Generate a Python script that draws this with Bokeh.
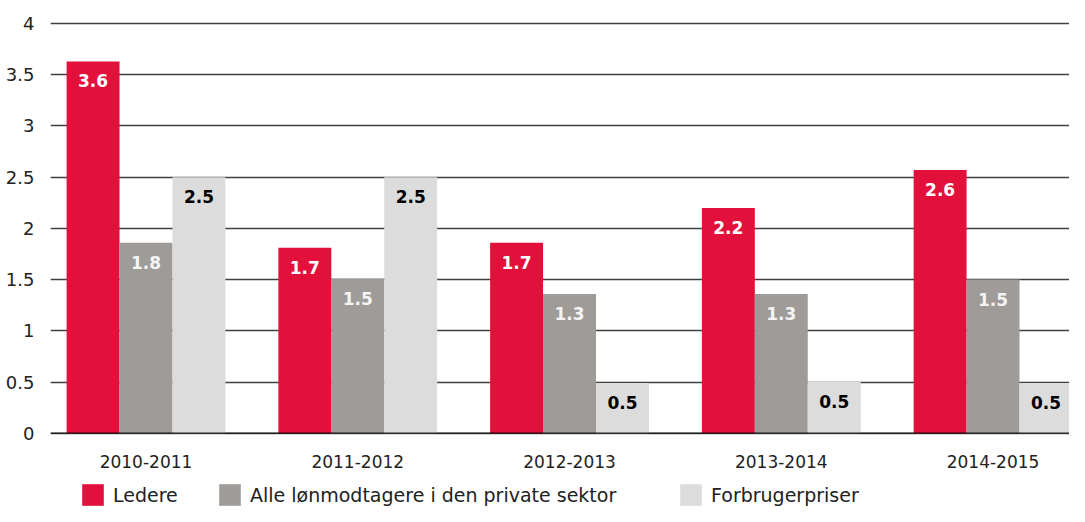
from bokeh.plotting import figure
from bokeh.layouts import column
from bokeh.models import ColumnDataSource, FixedTicker, Legend, LegendItem, Span, Range1d
from bokeh.embed import file_html
from bokeh.resources import INLINE
from bokeh.core.properties import value
import numpy as np

# ---- data ----
periods = ["2010-2011", "2011-2012", "2012-2013", "2013-2014", "2014-2015"]
series_names = ["Ledere", "Alle lønmodtagere i den private sektor", "Forbrugerpriser"]
ledere = [3.63, 1.81, 1.86, 2.20, 2.57]
alle = [1.86, 1.51, 1.36, 1.36, 1.50]
forbruger = [2.50, 2.50, 0.49, 0.50, 0.49]
ledere_labels = ["3.6", "1.7", "1.7", "2.2", "2.6"]
alle_labels = ["1.8", "1.5", "1.3", "1.3", "1.5"]
forbruger_labels = ["2.5", "2.5", "0.5", "0.5", "0.5"]
y_ticks = [0, 0.5, 1, 1.5, 2, 2.5, 3, 3.5, 4]
y_tick_labels = ["0", "0.5", "1", "1.5", "2", "2.5", "3", "3.5", "4"]

# ---- style ----
colors = ["#E4103C", "#9F9B98", "#DCDCDC"]
label_colors = ["#FFFFFF", "#F4F4F4", "#000000"]
FONT = "DejaVu Sans"
bar_w = 0.25
offsets = [-0.25, 0.0, 0.25]
W = 1069

p = figure(width=W, height=470, output_backend="svg", toolbar_location=None,
           x_range=Range1d(-0.451, 4.361), y_range=Range1d(-0.012, 4.0195),
           min_border_left=50, min_border_right=0, min_border_top=21, min_border_bottom=35)
p.outline_line_color = None
p.background_fill_color = "white"
p.border_fill_color = "white"

idx = np.arange(len(periods))
values = [ledere, alle, forbruger]
labels = [ledere_labels, alle_labels, forbruger_labels]
sources = []
for k in range(3):
    src = ColumnDataSource(dict(x=idx + offsets[k], top=values[k], lbl=labels[k]))
    sources.append(src)
    p.vbar(x="x", top="top", bottom=0, width=bar_w, source=src,
           fill_color=colors[k], line_color=None)
    p.text(x="x", y="top", text="lbl", source=src, text_align="center",
           text_baseline="top", y_offset=13, text_font=value(FONT),
           text_font_style="bold", text_font_size="17px", text_color=label_colors[k])

# baseline
p.add_layout(Span(location=0, dimension="width", line_color="#000000",
                  line_alpha=0.55, line_width=2, level="overlay"))

# grid
p.xgrid.grid_line_color = None
p.ygrid.ticker = FixedTicker(ticks=y_ticks)
p.ygrid.grid_line_color = "#404040"
p.ygrid.grid_line_width = 1.6

# axes
p.yaxis.ticker = FixedTicker(ticks=y_ticks)
p.yaxis.major_label_overrides = {t: l for t, l in zip(y_ticks, y_tick_labels)}
p.yaxis.axis_line_color = None
p.yaxis.major_tick_line_color = None
p.yaxis.minor_tick_line_color = None
p.yaxis.major_label_standoff = 10
p.yaxis.major_label_text_font = FONT
p.yaxis.major_label_text_font_size = "18px"
p.yaxis.major_label_text_color = "#222222"

p.xaxis.ticker = FixedTicker(ticks=list(idx))
p.xaxis.major_label_overrides = {int(i): s for i, s in zip(idx, periods)}
p.xaxis.axis_line_color = None
p.xaxis.major_tick_line_color = None
p.xaxis.minor_tick_line_color = None
p.xaxis.major_label_standoff = 14
p.xaxis.major_label_text_font = FONT
p.xaxis.major_label_text_font_size = "17px"
p.xaxis.major_label_text_color = "#222222"

# ---- legend strip below the chart (its bar renderers are hidden) ----
lg = figure(width=W, height=36, output_backend="svg", toolbar_location=None,
            x_range=Range1d(-0.451, 4.361), y_range=Range1d(-2, -1),
            x_axis_location=None, y_axis_location=None,
            min_border_left=0, min_border_right=0, min_border_top=0, min_border_bottom=0)
lg.outline_line_color = None
lg.grid.visible = False
legend_x = [29, 166, 627]
for k in range(3):
    r = lg.vbar(x="x", top="top", bottom=0, width=bar_w, source=sources[k],
                fill_color=colors[k], line_color=None, visible=False)
    leg = Legend(items=[LegendItem(label=series_names[k], renderers=[r])],
                 location=(legend_x[k], -2), orientation="horizontal",
                 glyph_width=27, glyph_height=27, label_standoff=7,
                 label_text_font=FONT, label_text_font_size="19px",
                 label_text_color="#222222", padding=0, margin=0,
                 inactive_fill_alpha=0,
                 border_line_alpha=0, background_fill_alpha=0)
    lg.add_layout(leg, "center")

layout = column(p, lg, spacing=0)
open("out.html", "w").write(file_html(layout, INLINE))
